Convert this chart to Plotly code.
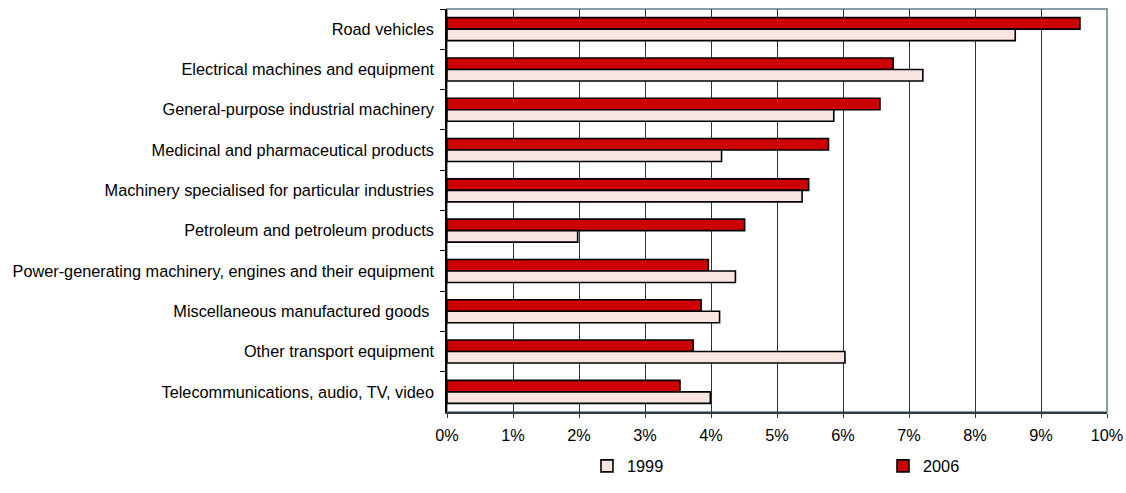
import plotly.graph_objects as go

categories = [
    "Road vehicles",
    "Electrical machines and equipment",
    "General-purpose industrial machinery",
    "Medicinal and pharmaceutical products",
    "Machinery specialised for particular industries",
    "Petroleum and petroleum products",
    "Power-generating machinery, engines and their equipment",
    "Miscellaneous manufactured goods\u00a0",
    "Other transport equipment",
    "Telecommunications, audio, TV, video",
]
values_1999 = [0.0861, 0.0721, 0.0586, 0.0416, 0.0538, 0.0198, 0.0437, 0.0413, 0.0603, 0.0399]
values_2006 = [0.0959, 0.0676, 0.0656, 0.0578, 0.0548, 0.0451, 0.0396, 0.0385, 0.0373, 0.0353]
x_ticks = [i / 100 for i in range(0, 11)]

FONT = "Liberation Sans, Arial, sans-serif"
FS = 16.3

fig = go.Figure()
fig.add_trace(go.Bar(
    name="2006", y=categories, x=values_2006, orientation="h",
    marker=dict(color="#CC0000", line=dict(color="#000000", width=1.6)),
    legend="legend2",
))
fig.add_trace(go.Bar(
    name="1999", y=categories, x=values_1999, orientation="h",
    marker=dict(color="#F8E5E2", line=dict(color="#000000", width=1.6)),
    legend="legend",
))

leg_common = dict(
    orientation="h", yanchor="middle", y=-0.1346, xanchor="left",
    font=dict(family=FONT, size=FS, color="#000000"),
    bgcolor="rgba(0,0,0,0)", borderwidth=0,
)

fig.update_layout(
    width=1126, height=493,
    margin=dict(l=447, r=19, t=9, b=68),
    paper_bgcolor="white", plot_bgcolor="white",
    barmode="group", bargap=0.43, bargroupgap=0,
    font=dict(family=FONT, size=FS, color="#000000"),
    showlegend=True,
    legend=dict(x=0.2121, **leg_common),
    legend2=dict(x=0.6606, **leg_common),
    xaxis=dict(
        range=[0, 0.1], tickvals=x_ticks, tickformat=".0%",
        showgrid=True, gridcolor="#333333", gridwidth=1,
        zeroline=False, showline=True, linecolor="#2F3F3F", linewidth=1.5,
        ticks="outside", ticklen=4, tickcolor="#2F3F3F",
        ticklabelstandoff=4,
        tickfont=dict(family=FONT, size=FS, color="#000000"),
        automargin=False, fixedrange=True,
    ),
    yaxis=dict(
        autorange="reversed", type="category",
        showgrid=False, zeroline=False,
        showline=True, linecolor="#000000", linewidth=1.5,
        ticks="outside", ticklen=5, tickcolor="#000000", tickson="boundaries",
        ticklabelstandoff=8,
        tickfont=dict(family=FONT, size=FS, color="#000000"),
        automargin=False, fixedrange=True,
    ),
    shapes=[dict(
        type="rect", xref="paper", yref="paper", x0=0, x1=1, y0=0, y1=1,
        line=dict(color="#8A9EA8", width=2), layer="below",
    )],
)

fig.write_html(
    "out.html",
    config={"displayModeBar": False},
    post_script="document.body.style.margin='0';document.body.style.overflow='hidden';",
)
